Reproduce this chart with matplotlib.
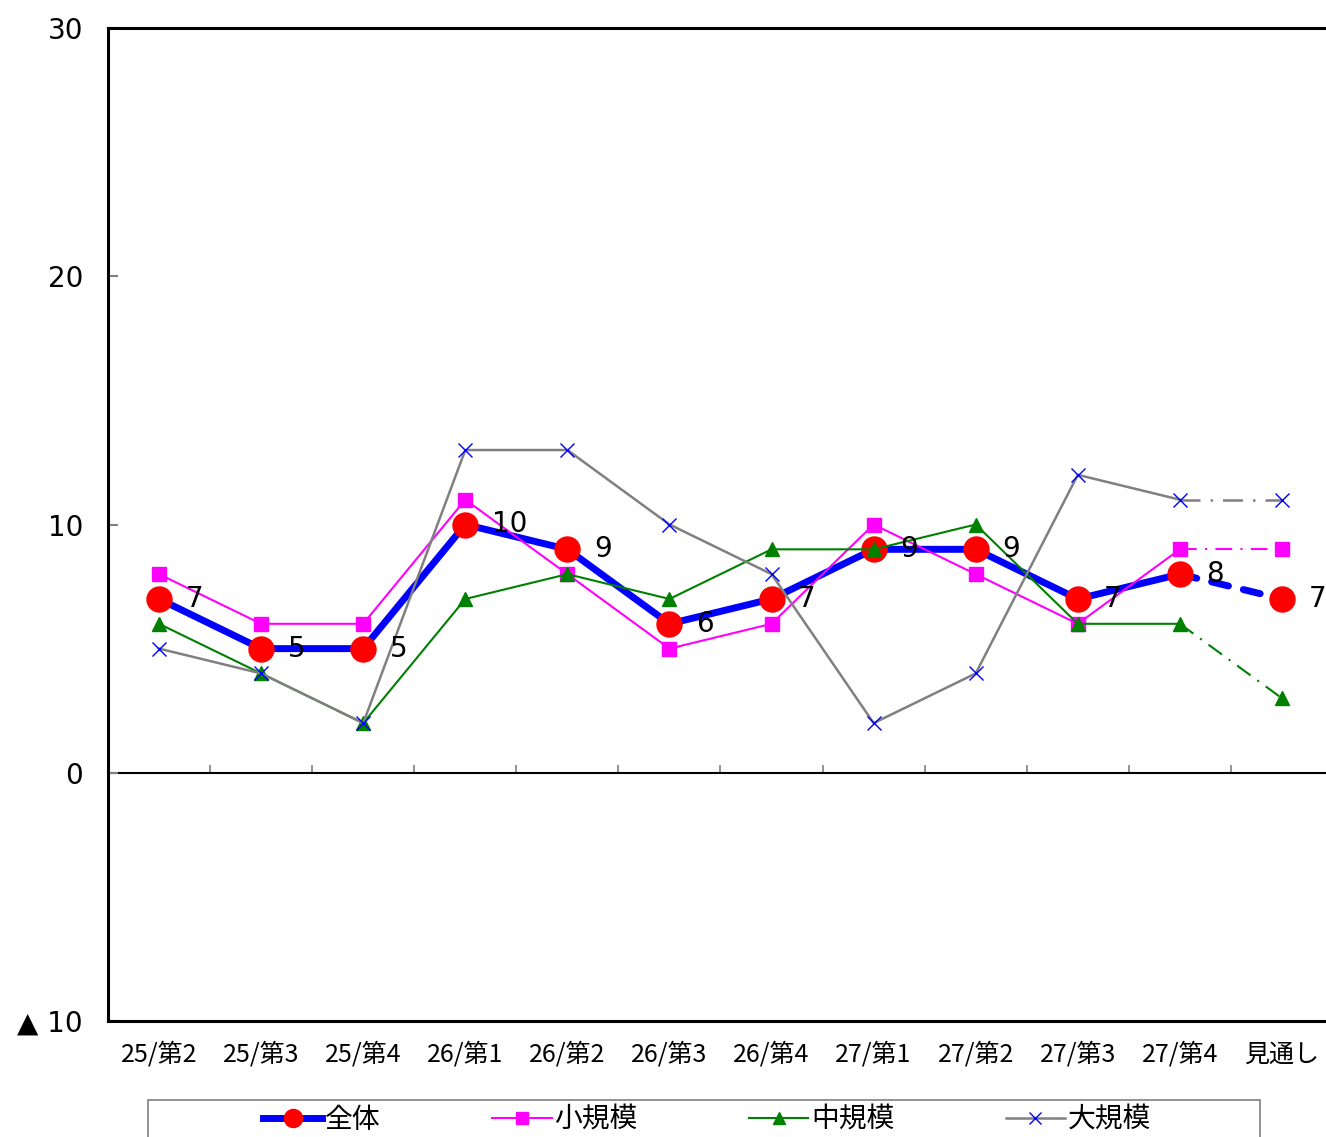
import matplotlib
matplotlib.use("Agg")
import matplotlib.pyplot as plt
from matplotlib.lines import Line2D
from matplotlib.patches import Rectangle

plt.rcParams['font.family'] = ['Noto Sans CJK JP', 'DejaVu Sans']

# data
categories = ['25/第2', '25/第3', '25/第4', '26/第1', '26/第2', '26/第3',
              '26/第4', '27/第1', '27/第2', '27/第3', '27/第4', '見通し']
zentai = [7, 5, 5, 10, 9, 6, 7, 9, 9, 7, 8, 7]
shoukibo = [8, 6, 6, 11, 8, 5, 6, 10, 8, 6, 9, 9]
chuukibo = [6, 4, 2, 7, 8, 7, 9, 9, 10, 6, 6, 3]
daikibo = [5, 4, 2, 13, 13, 10, 8, 2, 4, 12, 11, 11]
yticks = [-10, 0, 10, 20, 30]
ytick_labels = ['▲ 10', '0', '10', '20', '30']

x = list(range(len(categories)))
n = len(categories) - 1  # last point is the forecast

fig = plt.figure(figsize=(13.26, 11.37), dpi=100)
ax = fig.add_axes([108/1326, 116/1137, 1225/1326, 993/1137])

dashdot = (0, (8, 4, 1, 4))

# 全体
ax.plot(x[:n], zentai[:n], color='blue', lw=5, solid_capstyle='round', zorder=3)
ax.plot(x[n-1:], zentai[n-1:], color='blue', lw=5, ls=(0, (2.5, 2.2)),
        dash_capstyle='round', zorder=3)
ax.plot(x, zentai, ls='none', marker='o', ms=18, mfc='red', mec='red', zorder=3)
for xi, v in zip(x, zentai):
    ax.annotate(str(v), (xi, v), xytext=(19, 0), textcoords='offset points',
                ha='left', va='center', fontsize=20, family='DejaVu Sans', zorder=7)

# 小規模
ax.plot(x[:n], shoukibo[:n], color='#FF00FF', lw=1.5, zorder=4)
ax.plot(x[n-1:], shoukibo[n-1:], color='#FF00FF', lw=1.5, ls=dashdot, zorder=4)
ax.plot(x, shoukibo, ls='none', marker='s', ms=10, mfc='#FF00FF', mec='#FF00FF', zorder=4)

# 中規模
ax.plot(x[:n], chuukibo[:n], color='green', lw=1.5, zorder=5)
ax.plot(x[n-1:], chuukibo[n-1:], color='green', lw=1.5, ls=dashdot, zorder=5)
ax.plot(x, chuukibo, ls='none', marker='^', ms=10, mfc='green', mec='green', zorder=5)

# 大規模
ax.plot(x[:n], daikibo[:n], color='gray', lw=1.8, zorder=6)
ax.plot(x[n-1:], daikibo[n-1:], color='gray', lw=1.8, ls=dashdot, zorder=6)
ax.plot(x, daikibo, ls='none', marker='x', ms=10, mew=1, color='blue', zorder=6)

ax.set_xlim(-0.5, len(categories) - 0.5)
ax.set_ylim(-10, 30)
ax.set_yticks(yticks)
ax.set_yticklabels(ytick_labels, fontsize=20, family=['DejaVu Sans', 'Noto Sans CJK JP'])
ax.tick_params(axis='y', direction='in', length=7, width=1.5, color='gray', pad=18)
ax.set_xticks(x)
ax.set_xticklabels(categories, fontsize=18)
ax.tick_params(axis='x', length=0, pad=15)
for sp in ax.spines.values():
    sp.set_linewidth(2.2)
    sp.set_color('black')

# zero line with category boundary ticks
sec = ax.secondary_xaxis(0.25)
sec.set_xticks([xi + 0.5 for xi in x[:-1]])
sec.set_xticklabels([])
sec.tick_params(axis='x', direction='in', length=6, width=1.2, color='gray')
sec.spines['bottom'].set_linewidth(1.5)
sec.spines['bottom'].set_color('black')

# legend, frame runs off the bottom of the picture like the original
handles = [
    Line2D([], [], color='blue', lw=5, marker='o', ms=13, mfc='red', mec='red'),
    Line2D([], [], color='#FF00FF', lw=1.5, marker='s', ms=9, mfc='#FF00FF', mec='#FF00FF'),
    Line2D([], [], color='green', lw=1.5, marker='^', ms=9, mfc='green', mec='green'),
    Line2D([], [], color='gray', lw=1.8, marker='x', ms=9, mew=1, mec='blue'),
]
fig.legend(handles, ['全体', '小規模', '中規模', '大規模'], loc='center',
           bbox_to_anchor=(707/1326, 1 - 1120/1137), ncol=4, fontsize=20,
           frameon=False, handlelength=2.15, handletextpad=0.1,
           borderpad=0, columnspacing=4.0)
fig.patches.append(Rectangle((148/1326, -0.02), 1112/1326, 37/1137 + 0.02,
                             transform=fig.transFigure, fill=False,
                             edgecolor='gray', lw=1.2))

fig.savefig('out.png', dpi=100)
